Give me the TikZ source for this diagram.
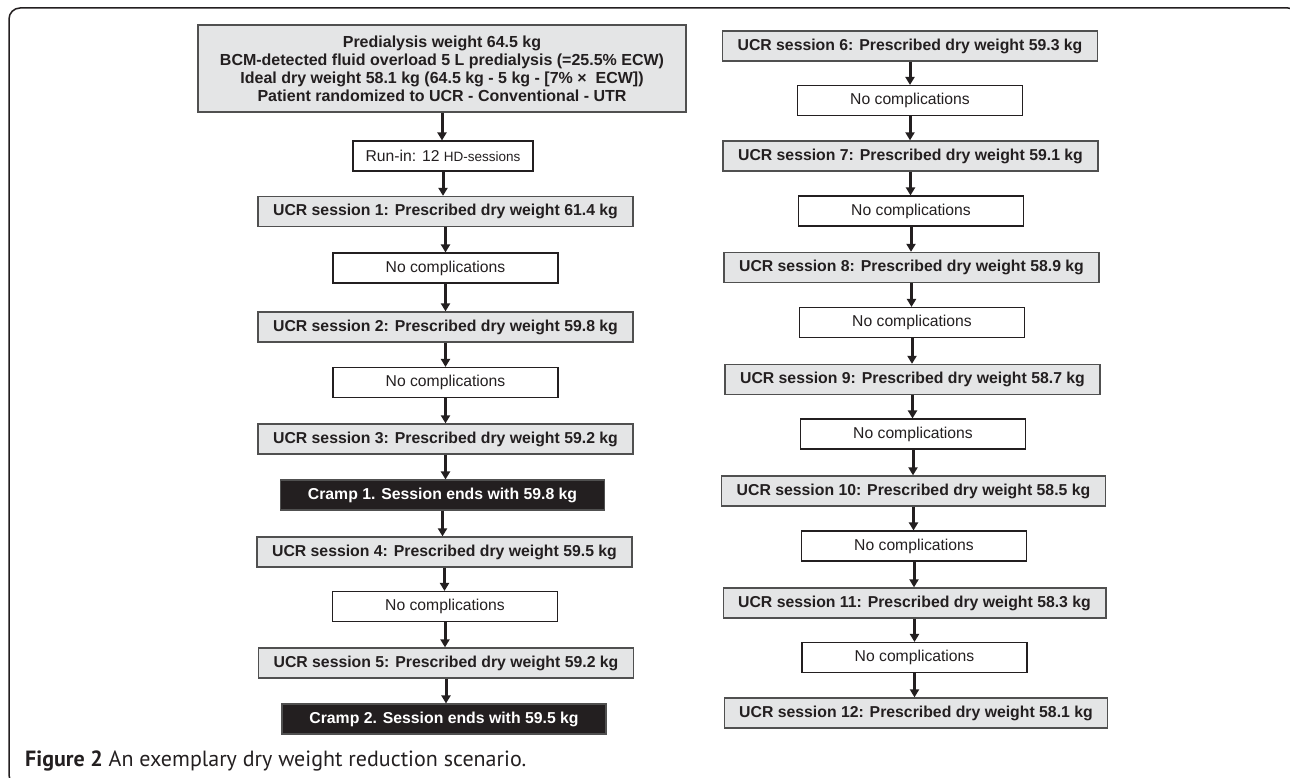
\documentclass[tikz,border=0pt]{standalone}
\usepackage{fontspec}
\setmainfont{Liberation Sans}
\newfontfamily\capfont{PT Sans}
\usetikzlibrary{arrows.meta}
\definecolor{boxgrey}{HTML}{E4E5E6}
\definecolor{ink}{HTML}{231F20}
\definecolor{edgegrey}{HTML}{505050}
\begin{document}
\begin{tikzpicture}[x=1pt,y=-1pt,
 ucr/.style={draw=edgegrey, line width=1.3pt, fill=boxgrey, minimum height=30pt, inner xsep=15pt, inner ysep=0pt, font=\fontsize{15.8}{18}\bfseries\selectfont, text=ink},
 nc/.style={draw=ink, line width=1.1pt, fill=white, minimum height=30pt, minimum width=225pt, inner sep=0pt, font=\fontsize{15.7}{18}\selectfont, text=ink},
 cramp/.style={draw=edgegrey, line width=1.1pt, fill=ink, minimum height=30pt, minimum width=324pt, inner sep=0pt, font=\fontsize{15.8}{18}\bfseries\selectfont, text=white},
 topbox/.style={draw=edgegrey, line width=1.3pt, fill=boxgrey, minimum height=87pt, minimum width=488pt, inner sep=0pt, align=center, font=\fontsize{16}{18}\bfseries\selectfont, text=ink},
 runbox/.style={draw=ink, line width=1.1pt, fill=white, minimum height=30pt, minimum width=180pt, inner sep=0pt, font=\fontsize{15.7}{18}\selectfont, text=ink},
 flow/.style={-{Triangle[length=8pt,width=9pt]}, line width=3pt, draw=ink},
 frame/.style={draw=ink, line width=1.5pt, rounded corners=11pt}
]
\useasboundingbox (0,0) rectangle (1290,778);
\draw[frame] (9,8) rectangle (1299,786);

% left column
\node[topbox] (top) at (442,68.5) {Predialysis weight 64.5 kg\\BCM-detected fluid overload 5 L predialysis (=25.5\% ECW)\\Ideal dry weight 58.1 kg (64.5 kg - 5 kg - [7\% \texttimes\ \ ECW])\\Patient randomized to UCR - Conventional - UTR};
\node[runbox] (run) at (443,156) {Run-in: 12 {\fontsize{13.5}{14}\selectfont HD-sessions}};
\node[ucr] (u1) at (445.5,211.5) {UCR session 1: Prescribed dry weight 61.4 kg};
\node[nc] (n1) at (445.5,268) {No complications};
\node[ucr] (u2) at (445.5,327) {UCR session 2: Prescribed dry weight 59.8 kg};
\node[nc] (n2) at (445.5,382.5) {No complications};
\node[ucr] (u3) at (445.5,439) {UCR session 3: Prescribed dry weight 59.2 kg};
\node[cramp] (c1) at (442.5,495) {Cramp 1. Session ends with 59.8 kg};
\node[ucr] (u4) at (444.5,552) {UCR session 4: Prescribed dry weight 59.5 kg};
\node[nc] (n3) at (445,606.5) {No complications};
\node[ucr] (u5) at (446,663) {UCR session 5: Prescribed dry weight 59.2 kg};
\node[cramp] (c2) at (444,719) {Cramp 2. Session ends with 59.5 kg};

\foreach \a/\b in {top/run,run/u1,u1/n1,n1/u2,u2/n2,n2/u3,u3/c1,c1/u4,u4/n3,n3/u5,u5/c2}
  \draw[flow] (\a.south) -- (\a.south |- \b.north);

% right column
\node[ucr] (u6) at (910,46) {UCR session 6: Prescribed dry weight 59.3 kg};
\node[nc] (n6) at (910,100.5) {No complications};
\node[ucr] (u7) at (910.5,156) {UCR session 7: Prescribed dry weight 59.1 kg};
\node[nc] (n7) at (911,211) {No complications};
\node[ucr] (u8) at (911.5,267.5) {UCR session 8: Prescribed dry weight 58.9 kg};
\node[nc] (n8) at (912,322.5) {No complications};
\node[ucr] (u9) at (912.5,379.5) {UCR session 9: Prescribed dry weight 58.7 kg};
\node[nc] (n9) at (913,434) {No complications};
\node[ucr] (u10) at (913.5,491) {UCR session 10: Prescribed dry weight 58.5 kg};
\node[nc] (n10) at (914,546) {No complications};
\node[ucr] (u11) at (914.5,603) {UCR session 11: Prescribed dry weight 58.3 kg};
\node[nc] (n11) at (914.5,657.5) {No complications};
\node[ucr] (u12) at (916,713) {UCR session 12: Prescribed dry weight 58.1 kg};

\foreach \a/\b in {u6/n6,n6/u7,u7/n7,n7/u8,u8/n8,n8/u9,u9/n9,n9/u10,u10/n10,n10/u11,u11/n11,n11/u12}
  \draw[flow] (\a.south) -- (\a.south |- \b.north);

\node[anchor=base west, inner sep=0pt, text=ink, font=\capfont\fontsize{22}{26}\selectfont] (cap) at (25,766) {\textbf{Figure 2} An exemplary dry weight reduction scenario.};
\end{tikzpicture}
\end{document}
